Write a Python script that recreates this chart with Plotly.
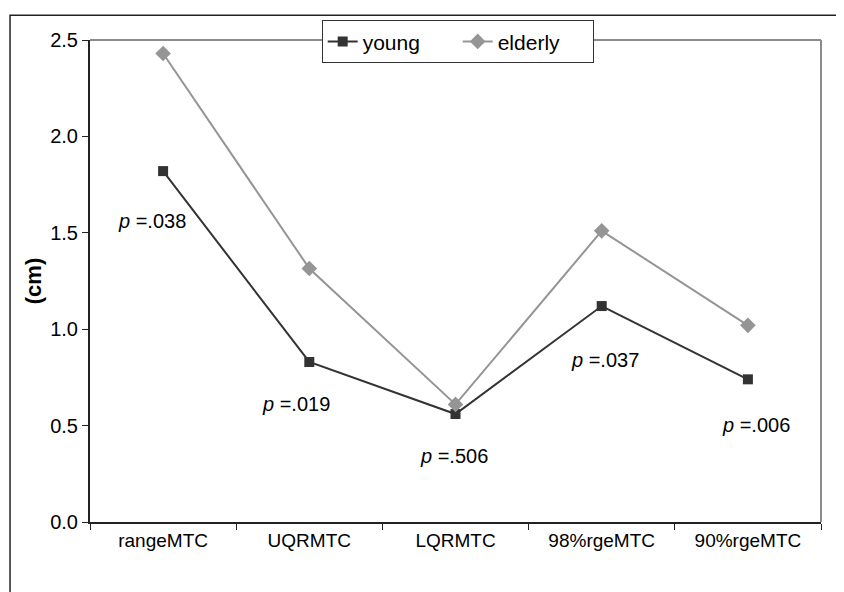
import plotly.graph_objects as go

categories = ["rangeMTC", "UQRMTC", "LQRMTC", "98%rgeMTC", "90%rgeMTC"]
young = [1.82, 0.83, 0.56, 1.12, 0.74]
elderly = [2.43, 1.315, 0.61, 1.51, 1.02]
p_labels = [".038", ".019", ".506", ".037", ".006"]
p_x = [-0.075, 0.908, 1.993, 3.024, 4.055]
p_y = [1.56, 0.61, 0.344, 0.842, 0.503]

FONT = "Liberation Sans, Arial, sans-serif"

fig = go.Figure()
fig.add_trace(go.Scatter(
    x=categories, y=young, name="young", mode="lines+markers",
    line=dict(color="#333333", width=2),
    marker=dict(symbol="square", size=10, color="#333333"),
))
fig.add_trace(go.Scatter(
    x=categories, y=elderly, name="elderly", mode="lines+markers",
    line=dict(color="#959595", width=2),
    marker=dict(symbol="diamond", size=12, color="#959595"),
))

for lab, px, py in zip(p_labels, p_x, p_y):
    fig.add_annotation(x=px, y=py, xref="x", yref="y", text="<i>p</i> =" + lab,
                       showarrow=False, font=dict(family=FONT, size=20, color="black"))

shapes = [
    dict(type="rect", xref="paper", yref="paper", x0=-0.1094, y0=-0.3, x1=1.2, y1=1.0513,
         line=dict(color="#222222", width=1.5), layer="below"),
    dict(type="line", xref="paper", yref="paper", x0=0, y0=1, x1=1, y1=1,
         line=dict(color="#8c8c8c", width=2)),
    dict(type="line", xref="paper", yref="paper", x0=1, y0=0, x1=1, y1=1,
         line=dict(color="#8c8c8c", width=2)),
]

fig.update_layout(
    width=844, height=592,
    margin=dict(l=82, r=31, t=27, b=78),
    paper_bgcolor="white", plot_bgcolor="white",
    font=dict(family=FONT, size=19, color="black"),
    showlegend=True,
    legend=dict(orientation="h", x=0.503, xanchor="center", y=1.041, yanchor="top",
                bgcolor="white", bordercolor="#333333", borderwidth=1,
                font=dict(family=FONT, size=21), entrywidth=90),
    shapes=shapes,
    xaxis=dict(
        type="category", showgrid=False, zeroline=False,
        showline=True, linecolor="#222222", linewidth=2,
        ticks="outside", ticklen=6, tickcolor="#222222", tickwidth=1,
        tickson="boundaries", range=[-0.5, 4.5],
        tickfont=dict(family=FONT, size=19),
    ),
    yaxis=dict(
        range=[0, 2.5], dtick=0.5, tickformat=".1f", showgrid=False, zeroline=False,
        showline=True, linecolor="#222222", linewidth=2,
        ticks="outside", ticklen=6, tickcolor="#222222", tickwidth=1,
        tickfont=dict(family=FONT, size=20),
        title=dict(text="<b>(cm)</b>", font=dict(family=FONT, size=22), standoff=2),
    ),
)

fig.write_html("out.html")
